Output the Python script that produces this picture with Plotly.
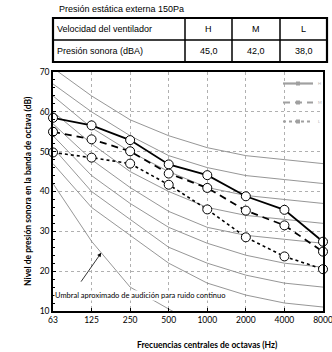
import plotly.graph_objects as go

freqs = ["63", "125", "250", "500", "1000", "2000", "4000", "8000"]
h_values = [58.5, 56.6, 52.9, 46.8, 44.1, 38.8, 35.4, 27.4]
m_values = [55.0, 53.1, 50.1, 44.5, 40.9, 35.2, 31.5, 24.9]
l_values = [49.8, 48.5, 47.0, 41.7, 35.5, 28.5, 23.7, 20.5]

nc_curves = {
    "NC-50": [71, 64, 58, 54, 51, 49, 48, 47],
    "NC-45": [67, 60, 54, 49, 46, 44, 43, 42],
    "NC-40": [64, 56, 50, 45, 41, 39, 38, 37],
    "NC-35": [60, 52, 45, 40, 36, 34, 33, 32],
    "NC-30": [57, 48, 41, 35, 31, 29, 28, 27],
    "NC-25": [54, 44, 37, 31, 27, 24, 22, 21],
    "NC-20": [51, 40, 33, 26, 22, 19, 17, 16],
    "NC-15": [47, 36, 29, 22, 17, 14, 12, 11],
}
threshold = [42, 27.5, 16, 10.5, 5, 2, 0, 0]

table_header = ["Velocidad del ventilador", "H", "M", "L"]
table_row = ["Presión sonora (dBA)", "45,0", "42,0", "38,0"]
table_title = "Presión estática externa 150Pa"

W, H = 332, 352
L_M, R_M, T_M, B_M = 53, 9, 72, 41
PW, PH = W - L_M - R_M, H - T_M - B_M
def px(x): return (x - L_M) / PW
def py(y): return (H - B_M - y) / PH

xs = list(range(len(freqs)))
fig = go.Figure()

for name, vals in nc_curves.items():
    fig.add_trace(go.Scatter(x=xs, y=vals, mode="lines", line=dict(color="#8a8a8a", width=0.9),
                             showlegend=False, hoverinfo="skip"))
fig.add_trace(go.Scatter(x=xs, y=threshold, mode="lines", line=dict(color="#8a8a8a", width=0.9),
                         showlegend=False, hoverinfo="skip"))

marker = dict(symbol="circle", size=9, color="white", line=dict(color="black", width=1))
series = [("H", h_values, dict(color="black", width=1.8)),
          ("M", m_values, dict(color="black", width=1.8, dash="7px,5px")),
          ("L", l_values, dict(color="black", width=1.6, dash="dot"))]
for name, vals, ln in series:
    fig.add_trace(go.Scatter(x=xs, y=vals, name=name, mode="lines+markers", line=ln,
                             marker=marker, cliponaxis=False, showlegend=False))
# small legend entries (the reference legend is tiny and blurred)
for name, vals, ln in series:
    lg = dict(ln)
    lg["color"] = "#a0a0a0"
    lg["width"] = 2.2
    fig.add_trace(go.Scatter(x=[None], y=[None], name=name, mode="lines+markers", line=lg,
                             marker=dict(symbol="square", size=4, color="#a0a0a0")))

fig.update_layout(
    width=W, height=H,
    margin=dict(l=L_M, r=R_M, t=T_M, b=B_M, autoexpand=False),
    paper_bgcolor="white", plot_bgcolor="white",
    showlegend=True,
    legend=dict(x=px(327), y=py(69), xanchor="right", yanchor="top", font=dict(size=4, color="#b0b0b0"),
                bgcolor="rgba(0,0,0,0)", itemwidth=30, tracegroupgap=0, borderwidth=0),
    font=dict(family="Lato", size=8, color="black"),
)
fig.update_xaxes(range=[0, 7], tickvals=xs, ticktext=freqs, showgrid=True, automargin=False,
                 gridcolor="#b0b0b0", griddash="dot", gridwidth=1, ticklabeloverflow="allow",
                 showline=True, linecolor="black", linewidth=1.5, mirror=True,
                 ticks="inside", ticklen=3, tickcolor="black", tickfont=dict(family="Lato", size=8.5),
                 zeroline=False)
fig.update_yaxes(range=[10, 70], dtick=10, showgrid=True, automargin=False,
                 gridcolor="#b0b0b0", griddash="dot", gridwidth=1,
                 showline=True, linecolor="black", linewidth=1.5, mirror=True,
                 ticks="inside", ticklen=3, tickcolor="black", tickfont=dict(family="Lato", size=8.5),
                 minor=dict(ticks="inside", dtick=2, ticklen=2, tickcolor="black", showgrid=False),
                 zeroline=False)

# axis titles
fig.add_annotation(x=px(207), y=py(345), xref="paper", yref="paper", xanchor="center", yanchor="middle",
                   text="<b>Frecuencias centrales de octavas (Hz)</b>", showarrow=False,
                   font=dict(family="Lato", size=8.5))
fig.add_annotation(x=px(28), y=py(191), xref="paper", yref="paper", xanchor="center", yanchor="middle",
                   text="<b>Nivel de presión sonora en la banda de octava (dB)</b>", showarrow=False,
                   textangle=-90, font=dict(family="Lato", size=8.5))

fig.add_annotation(x=1.25, y=24.6, ax=0.7, ay=17, xref="x", yref="y", axref="x", ayref="y",
                   text="", showarrow=True, arrowhead=2, arrowsize=1, arrowwidth=0.8, arrowcolor="black")
fig.add_annotation(x=px(54), y=14.0, xref="paper", yref="y", xanchor="left", yanchor="middle",
                   text="Umbral aproximado de audición para ruido continuo", showarrow=False,
                   font=dict(family="Lato", size=7.5, color="black"), bgcolor="white", borderpad=0)

# table
cols = [53, 185, 232, 280, 327]
y0, ym, y1 = 18, 40, 62
fig.add_shape(type="rect", xref="paper", yref="paper", x0=px(cols[0]), x1=px(cols[-1]), y0=py(y1), y1=py(y0),
              line=dict(color="black", width=2.2), fillcolor="white")
fig.add_shape(type="line", xref="paper", yref="paper", x0=px(cols[0]), x1=px(cols[-1]), y0=py(ym), y1=py(ym),
              line=dict(color="black", width=1.5))
for c in cols[1:-1]:
    fig.add_shape(type="line", xref="paper", yref="paper", x0=px(c), x1=px(c), y0=py(y1), y1=py(y0),
                  line=dict(color="black", width=1.5))
for row, (ya, yb) in zip([table_header, table_row], [(y0, ym), (ym, y1)]):
    for i, txt in enumerate(row):
        if i == 0:
            fig.add_annotation(x=px(cols[0] + 2), y=py((ya + yb) / 2), xref="paper", yref="paper",
                               xanchor="left", yanchor="middle", text=txt, showarrow=False,
                               font=dict(family="Liberation Sans", size=9))
        else:
            fig.add_annotation(x=px((cols[i] + cols[i + 1]) / 2), y=py((ya + yb) / 2), xref="paper", yref="paper",
                               xanchor="center", yanchor="middle", text=txt, showarrow=False,
                               font=dict(family="Liberation Sans", size=9))
fig.add_annotation(x=px(57), y=py(9), xref="paper", yref="paper", xanchor="left", yanchor="middle",
                   text=table_title, showarrow=False, font=dict(family="Liberation Sans", size=9))

fig.write_html("out.html", config={"displayModeBar": False},
               post_script="document.body.style.margin='0';")
